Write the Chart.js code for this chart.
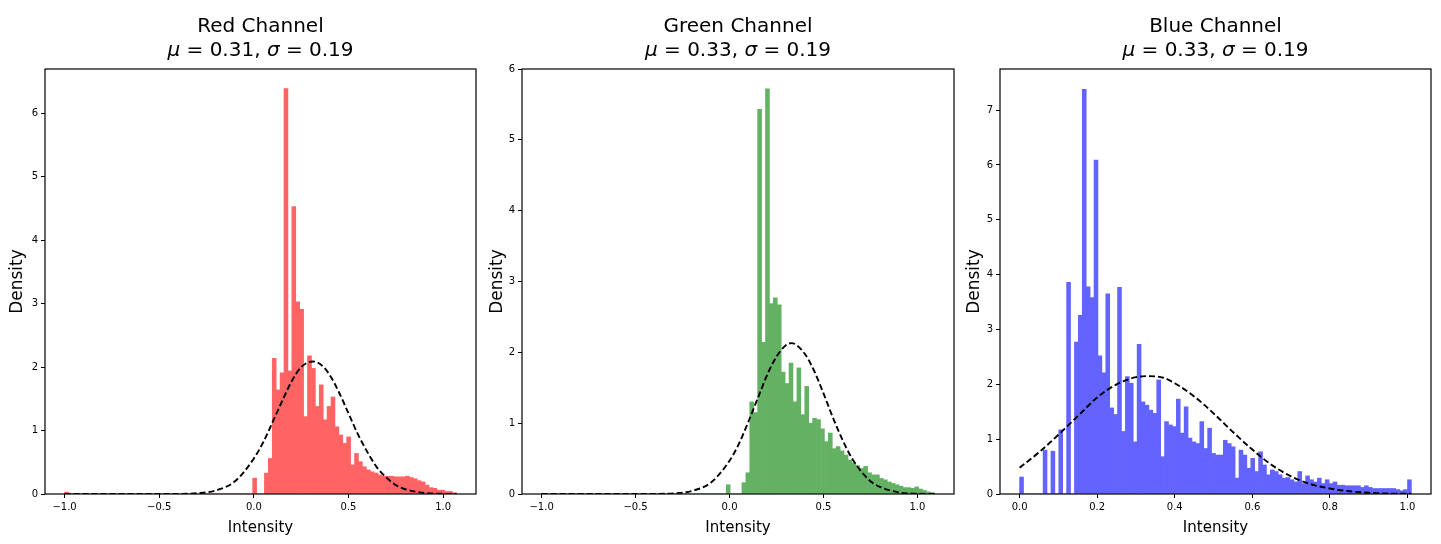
<!DOCTYPE html>
<html>
<head>
<meta charset="utf-8">
<title>Channel histograms</title>
<script src="https://cdn.jsdelivr.net/npm/chart.js@4.4.1/dist/chart.umd.min.js"></script>
<style>
  body { margin: 0; background: #fff; }
  #fig { position: relative; width: 1441px; height: 544px; overflow: hidden; font-family: 'DejaVu Sans', sans-serif; }
  .panel { position: absolute; top: 0; }
  .title { position: absolute; top: 13px; text-align: center; font-size: 20px; line-height: 24px; color: #000; white-space: nowrap; }
</style>
</head>
<body>
<div id="fig">
  <div class="panel" style="left:0px"><canvas id="redChart" width="480" height="544"></canvas></div>
  <div class="panel" style="left:480px"><canvas id="greenChart" width="480" height="544"></canvas></div>
  <div class="panel" style="left:960px"><canvas id="blueChart" width="481" height="544"></canvas></div>
  <div class="title" id="redTitle" style="left:45px;width:431px"></div>
  <div class="title" id="greenTitle" style="left:522px;width:432px"></div>
  <div class="title" id="blueTitle" style="left:1000px;width:431px"></div>
</div>
<script>
// Channel stats shown in the titles
const channelNames = ['Red Channel', 'Green Channel', 'Blue Channel'];
const channelMeans = [0.31, 0.33, 0.33];
const channelStds = [0.19, 0.19, 0.19];

// Histogram bins: first edge, bin width, density per bin (100 bins)
const redBinStart = -1.0;
const redBinWidth = 0.0207;
const redDensity = [
  0.03, 0, 0, 0, 0, 0, 0, 0, 0, 0,
  0, 0, 0, 0, 0, 0, 0, 0, 0, 0,
  0, 0, 0, 0, 0, 0, 0, 0, 0, 0,
  0, 0, 0, 0, 0, 0, 0, 0, 0, 0,
  0, 0, 0, 0, 0, 0, 0, 0, 0.25, 0,
  0, 0.33, 0.56, 2.14, 1.64, 1.91, 6.39, 1.94, 4.53, 3.03,
  2.91, 1.22, 2.18, 1.98, 1.38, 1.72, 1.17, 1.38, 1.53, 1.06,
  0.93, 0.80, 0.90, 0.46, 0.64, 0.51, 0.43, 0.38, 0.35, 0.33,
  0.30, 0.28, 0.28, 0.28, 0.27, 0.27, 0.27, 0.28, 0.26, 0.24,
  0.21, 0.19, 0.14, 0.10, 0.09, 0.06, 0.06, 0.04, 0.04, 0.02
];

const greenBinStart = -1.0;
const greenBinWidth = 0.0209;
const greenDensity = [
  0.01, 0, 0, 0, 0, 0, 0, 0, 0, 0,
  0, 0, 0, 0, 0, 0, 0, 0, 0, 0,
  0, 0, 0, 0, 0, 0, 0, 0, 0, 0,
  0, 0, 0, 0, 0, 0, 0, 0, 0, 0,
  0, 0, 0, 0, 0, 0, 0, 0.13, 0, 0,
  0, 0.16, 0.30, 1.30, 1.15, 5.43, 2.14, 5.72, 2.69, 2.77,
  2.67, 1.72, 1.56, 1.85, 1.30, 1.78, 1.12, 1.52, 1.00, 1.07,
  1.05, 0.92, 0.74, 0.86, 0.64, 0.67, 0.61, 0.55, 0.48, 0.44,
  0.40, 0.36, 0.39, 0.30, 0.27, 0.27, 0.22, 0.20, 0.17, 0.15,
  0.13, 0.11, 0.09, 0.09, 0.08, 0.10, 0.07, 0.05, 0.03, 0.02
];

const blueBinStart = 0.0;
const blueBinWidth = 0.0101;
const blueDensity = [
  0.31, 0, 0, 0, 0, 0, 0.80, 0, 0.78, 0,
  1.17, 0, 3.86, 0, 2.77, 3.26, 7.38, 3.78, 3.58, 6.09,
  2.52, 2.21, 3.65, 1.57, 1.45, 3.77, 1.14, 2.14, 2.02, 0.95,
  2.73, 1.68, 1.62, 1.53, 1.47, 2.08, 0.68, 1.32, 1.26, 1.23,
  1.73, 1.11, 1.59, 1.02, 0.95, 0.92, 1.32, 0.83, 1.20, 0.74,
  0.71, 0.71, 0.98, 0.92, 0.86, 0.29, 0.80, 0.71, 0.47, 0.65,
  0.41, 0.77, 0.53, 0.35, 0.44, 0.41, 0.35, 0.29, 0.30, 0.26,
  0.22, 0.41, 0.19, 0.33, 0.26, 0.22, 0.29, 0.19, 0.26, 0.19,
  0.22, 0.16, 0.16, 0.15, 0.15, 0.15, 0.15, 0.12, 0.15, 0.12,
  0.10, 0.10, 0.10, 0.10, 0.10, 0.10, 0.08, 0.06, 0.08, 0.26
];

// Dashed normal-fit curves
const redFitX = [-1.0, -0.8, -0.6, -0.4, -0.3, -0.2, -0.1, 0.0, 0.05, 0.1, 0.15, 0.2, 0.25, 0.31, 0.35, 0.4, 0.45, 0.5, 0.55, 0.6, 0.65, 0.7, 0.75, 0.8, 0.9, 1.0, 1.07];
const redFitY = [0, 0, 0, 0.002, 0.012, 0.057, 0.20, 0.56, 0.82, 1.14, 1.47, 1.78, 2.00, 2.09, 2.05, 1.88, 1.60, 1.27, 0.94, 0.66, 0.42, 0.26, 0.14, 0.075, 0.017, 0.003, 0.001];

const greenFitX = [-1.0, -0.8, -0.6, -0.4, -0.3, -0.2, -0.1, 0.0, 0.05, 0.1, 0.15, 0.2, 0.25, 0.3, 0.33, 0.4, 0.45, 0.5, 0.55, 0.6, 0.65, 0.7, 0.75, 0.8, 0.9, 1.0, 1.09];
const greenFitY = [0, 0, 0, 0.001, 0.009, 0.043, 0.16, 0.47, 0.71, 1.02, 1.35, 1.68, 1.94, 2.10, 2.13, 1.98, 1.74, 1.42, 1.08, 0.77, 0.51, 0.32, 0.18, 0.10, 0.023, 0.004, 0.001];

const blueFitX = [0.0, 0.05, 0.1, 0.15, 0.2, 0.25, 0.3, 0.33, 0.37, 0.4, 0.45, 0.5, 0.55, 0.6, 0.65, 0.7, 0.75, 0.8, 0.85, 0.9, 0.95, 1.01];
const blueFitY = [0.48, 0.76, 1.08, 1.42, 1.76, 2.00, 2.13, 2.15, 2.12, 2.02, 1.78, 1.47, 1.13, 0.81, 0.53, 0.32, 0.18, 0.10, 0.05, 0.022, 0.008, 0.003];

// Tick values and labels
const wideXTicks = [-1.0, -0.5, 0.0, 0.5, 1.0];
const wideXLabels = ['\u22121.0', '\u22120.5', '0.0', '0.5', '1.0'];
const blueXTicks = [0.0, 0.2, 0.4, 0.6, 0.8, 1.0];
const blueXLabels = ['0.0', '0.2', '0.4', '0.6', '0.8', '1.0'];
const redYTicks = [0, 1, 2, 3, 4, 5, 6];
const greenYTicks = [0, 1, 2, 3, 4, 5, 6];
const blueYTicks = [0, 1, 2, 3, 4, 5, 6, 7];

Chart.defaults.font.family = "'DejaVu Sans', sans-serif";
Chart.defaults.color = '#000';

// draws the full black frame round the plot area
const framePlugin = {
    id: 'frame',
    afterDatasetsDraw(chart) {
        const a = chart.chartArea;
        const ctx = chart.ctx;
        ctx.save();
        ctx.strokeStyle = '#000';
        ctx.lineWidth = 1.2;
        ctx.strokeRect(a.left, a.top, a.right - a.left, a.bottom - a.top);
        ctx.restore();
    }
};

function binPoints(start, width, values) {
    return values.map((v, i) => ({ x: start + (i + 0.5) * width, y: v }));
}

function curvePoints(xs, ys) {
    return xs.map((x, i) => ({ x: x, y: ys[i] }));
}

function makeChart(id, cfg) {
    const axisTicks = { color: '#000', font: { size: 10 }, maxRotation: 0, autoSkip: false, padding: 3 };
    const axisGrid = { drawOnChartArea: false, drawTicks: true, tickLength: 4, color: '#000', lineWidth: 1 };

    return new Chart(document.getElementById(id), {
        type: 'bar',
        data: {
            datasets: [
                {
                    type: 'line',
                    data: curvePoints(cfg.fitX, cfg.fitY),
                    borderColor: '#000',
                    borderWidth: 1.9,
                    borderDash: [6, 3],
                    pointRadius: 0,
                    cubicInterpolationMode: 'monotone',
                    order: 0
                },
                {
                    type: 'bar',
                    data: binPoints(cfg.binStart, cfg.binWidth, cfg.density),
                    backgroundColor: cfg.color,
                    borderWidth: 0,
                    barPercentage: 1,
                    categoryPercentage: 1,
                    order: 1
                }
            ]
        },
        options: {
            responsive: false,
            animation: false,
            events: [],
            layout: { padding: { left: 0, top: 69, right: cfg.padRight, bottom: 0 } },
            plugins: { legend: { display: false }, tooltip: { enabled: false } },
            scales: {
                x: {
                    type: 'linear',
                    min: cfg.xMin,
                    max: cfg.xMax,
                    offset: false,
                    afterFit: s => { s.height = 50; },
                    afterBuildTicks: s => { s.ticks = cfg.xTicks.map(v => ({ value: v })); },
                    ticks: Object.assign({}, axisTicks, { callback: (v, i) => cfg.xLabels[i] }),
                    grid: Object.assign({ offset: false }, axisGrid),
                    border: { display: false },
                    title: { display: true, text: 'Intensity', color: '#000', font: { size: 15 }, padding: { top: 0, bottom: 7 } }
                },
                y: {
                    min: 0,
                    max: cfg.yMax,
                    afterFit: s => { s.width = cfg.yWidth; },
                    afterBuildTicks: s => { s.ticks = cfg.yTicks.map(v => ({ value: v })); },
                    ticks: Object.assign({}, axisTicks, { callback: v => String(v) }),
                    grid: axisGrid,
                    border: { display: false },
                    title: { display: true, text: 'Density', color: '#000', font: { size: 17 }, padding: { top: cfg.yTitlePad, bottom: 0 } }
                }
            }
        },
        plugins: [framePlugin]
    });
}

document.addEventListener('DOMContentLoaded', () => {
    ['redTitle', 'greenTitle', 'blueTitle'].forEach((id, i) => {
        document.getElementById(id).innerHTML = channelNames[i] + '<br><i>\u03bc</i> = ' +
            channelMeans[i].toFixed(2) + ', <i>\u03c3</i> = ' + channelStds[i].toFixed(2);
    });

    makeChart('redChart', {
        binStart: redBinStart, binWidth: redBinWidth, density: redDensity,
        fitX: redFitX, fitY: redFitY, color: '#ff6363',
        xMin: -1.1035, xMax: 1.1735, yMax: 6.7,
        xTicks: wideXTicks, xLabels: wideXLabels, yTicks: redYTicks,
        yWidth: 45, padRight: 4, yTitlePad: 7.8
    });

    makeChart('greenChart', {
        binStart: greenBinStart, binWidth: greenBinWidth, density: greenDensity,
        fitX: greenFitX, fitY: greenFitY, color: '#63b263',
        xMin: -1.1045, xMax: 1.1945, yMax: 6.0,
        xTicks: wideXTicks, xLabels: wideXLabels, yTicks: greenYTicks,
        yWidth: 42, padRight: 6, yTitlePad: 7.3
    });

    makeChart('blueChart', {
        binStart: blueBinStart, binWidth: blueBinWidth, density: blueDensity,
        fitX: blueFitX, fitY: blueFitY, color: '#6363ff',
        xMin: -0.0505, xMax: 1.0605, yMax: 7.75,
        xTicks: blueXTicks, xLabels: blueXLabels, yTicks: blueYTicks,
        yWidth: 40, padRight: 10, yTitlePad: 4.3
    });
});
</script>
</body>
</html>
